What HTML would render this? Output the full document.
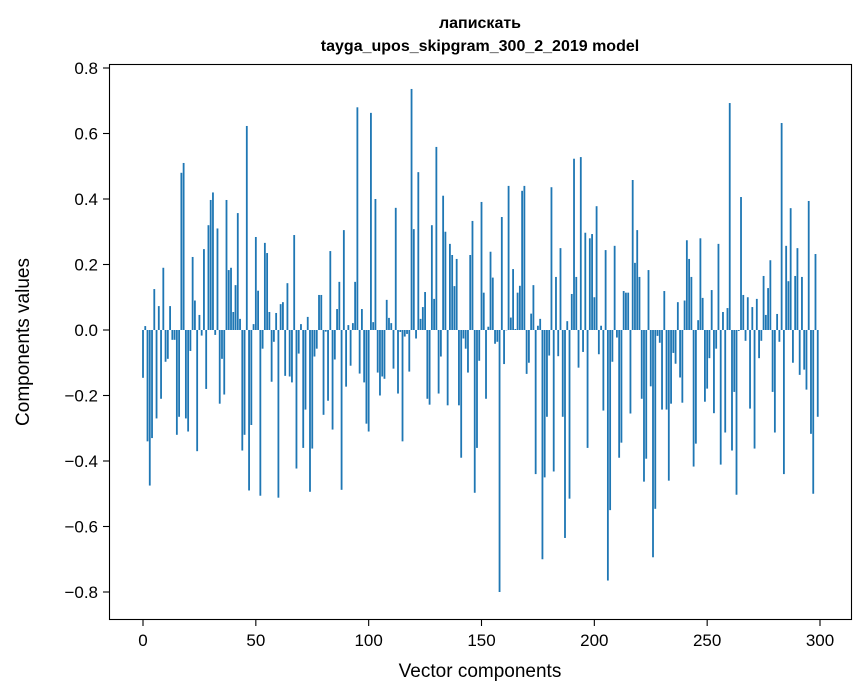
<!DOCTYPE html>
<html><head><meta charset="utf-8"><style>
html,body{margin:0;padding:0;background:#fff;}
svg{display:block;font-family:"Liberation Sans","DejaVu Sans",sans-serif;}
</style></head><body>
<svg id="chart" width="867" height="696" viewBox="0 0 867 696" xmlns="http://www.w3.org/2000/svg">
<rect x="0" y="0" width="867" height="696" fill="#fff"/>
<text x="480" y="28" text-anchor="middle" font-size="16" font-weight="bold" font-family="Liberation Sans, DejaVu Sans, sans-serif">лапискать</text>
<text x="480" y="51" text-anchor="middle" font-size="16" font-weight="bold">tayga_upos_skipgram_300_2_2019 model</text>
<g id="bars"></g>
<g id="yticks"></g>
<g id="xticks"></g>
<rect x="109.5" y="64.5" width="742" height="555" fill="none" stroke="#000" stroke-width="1.1"/>
<text x="480" y="677" text-anchor="middle" font-size="19">Vector components</text>
<text x="0" y="0" transform="translate(29,342) rotate(-90)" text-anchor="middle" font-size="19">Components values</text>
</svg>
<script>
const values = [
-0.146,0.012,-0.34,-0.475,-0.33,0.125,-0.27,0.073,-0.21,0.19,
-0.097,-0.088,0.073,-0.03,-0.03,-0.32,-0.265,0.48,0.51,-0.27,
-0.31,-0.064,0.223,0.09,-0.37,0.046,-0.017,0.247,-0.18,0.32,
0.397,0.42,-0.015,0.31,-0.225,-0.088,-0.197,0.397,0.183,0.19,
0.055,0.137,0.357,0.034,-0.368,-0.32,0.623,-0.49,-0.29,0.018,
0.284,0.12,-0.506,-0.057,0.266,0.235,0.055,-0.158,-0.036,0.052,
-0.512,0.079,0.085,-0.14,0.143,-0.142,-0.16,0.29,-0.423,-0.072,
0.018,-0.36,-0.243,0.04,-0.494,-0.362,-0.081,-0.057,0.107,0.107,
-0.259,-0.005,-0.216,0.241,-0.304,-0.09,0.064,0.147,-0.488,0.305,
-0.173,0.015,-0.109,0.021,0.147,0.68,-0.133,0.064,-0.16,-0.286,
-0.31,0.663,0.024,0.40,-0.13,-0.2,-0.142,-0.149,0.092,0.037,
0.021,-0.118,0.373,-0.194,-0.006,-0.34,-0.02,-0.012,-0.127,0.736,
0.308,-0.026,0.482,0.034,0.07,0.116,-0.21,-0.228,0.32,0.095,
0.559,-0.194,-0.081,0.41,0.3,-0.23,0.263,0.229,0.134,0.217,
-0.23,-0.39,-0.026,-0.057,-0.13,0.229,0.333,-0.497,-0.36,-0.094,
0.391,0.114,-0.21,0.01,0.239,0.16,-0.042,-0.036,-0.80,0.345,
-0.104,0.0,0.44,0.038,0.186,0.003,0.114,0.135,0.425,0.44,
-0.134,-0.1,0.05,0.137,-0.44,0.013,0.034,-0.70,-0.45,-0.265,
-0.078,0.436,-0.432,0.162,-0.08,0.25,-0.265,-0.635,0.027,-0.515,
0.11,0.523,0.162,-0.115,0.528,-0.067,0.297,-0.36,0.28,0.293,
0.10,0.378,-0.074,0.013,-0.246,0.244,-0.765,-0.55,-0.097,0.257,
-0.023,-0.39,-0.344,0.119,0.114,0.114,-0.255,0.458,0.205,0.305,
0.162,-0.21,-0.463,-0.393,0.183,-0.172,-0.694,-0.546,-0.018,-0.039,
-0.243,0.119,-0.243,-0.46,-0.225,-0.07,-0.103,0.085,-0.145,-0.222,
0.09,0.274,0.217,0.162,-0.417,-0.347,0.03,0.28,0.098,-0.219,
-0.179,-0.086,0.122,-0.254,-0.057,0.263,-0.411,0.055,-0.313,0.067,
0.693,-0.368,-0.189,-0.503,-0.003,0.406,0.107,-0.033,0.10,-0.24,
0.07,-0.362,0.095,-0.086,-0.033,0.165,0.046,0.128,0.213,-0.189,
-0.313,0.049,-0.036,0.632,-0.44,0.257,0.149,0.372,-0.1,0.165,
0.25,-0.137,0.162,-0.121,-0.182,0.394,-0.317,-0.5,0.232,-0.265
];
const yTickValues = [-0.8,-0.6,-0.4,-0.2,0.0,0.2,0.4,0.6,0.8];
const yTickLabels = ["\u22120.8","\u22120.6","\u22120.4","\u22120.2","0.0","0.2","0.4","0.6","0.8"];
const xTickValues = [0,50,100,150,200,250,300];
const xTickLabels = ["0","50","100","150","200","250","300"];

const NS = "http://www.w3.org/2000/svg";
const X0 = 143, X300 = 820;
function xScale(i){ return X0 + (X300 - X0) * i / 300; }
function yScale(v){ return 330 - 327.5 * v; }
const bw = 0.8 * (X300 - X0) / 300;

const bars = document.getElementById('bars');
values.forEach((v, i) => {
  const r = document.createElementNS(NS, 'rect');
  const y1 = yScale(Math.max(v, 0)), y2 = yScale(Math.min(v, 0));
  r.setAttribute('x', (xScale(i) - bw / 2).toFixed(2));
  r.setAttribute('y', y1.toFixed(2));
  r.setAttribute('width', bw.toFixed(2));
  r.setAttribute('height', Math.max(0.3, y2 - y1).toFixed(2));
  r.setAttribute('fill', '#1f77b4');
  
  
  bars.appendChild(r);
});

const yg = document.getElementById('yticks');
yTickValues.forEach((v, k) => {
  const y = yScale(v);
  const l = document.createElementNS(NS, 'line');
  l.setAttribute('x1', 103); l.setAttribute('x2', 109.5);
  l.setAttribute('y1', y); l.setAttribute('y2', y);
  l.setAttribute('stroke', '#000'); l.setAttribute('stroke-width', '1.1');
  
  
  yg.appendChild(l);
  const t = document.createElementNS(NS, 'text');
  t.setAttribute('x', 98); t.setAttribute('y', y + 6);
  t.setAttribute('text-anchor', 'end'); t.setAttribute('font-size', '17');
  t.textContent = yTickLabels[k];
  
  
  yg.appendChild(t);
});

const xg = document.getElementById('xticks');
xTickValues.forEach((v, k) => {
  const x = xScale(v);
  const l = document.createElementNS(NS, 'line');
  l.setAttribute('x1', x); l.setAttribute('x2', x);
  l.setAttribute('y1', 619.5); l.setAttribute('y2', 626);
  l.setAttribute('stroke', '#000'); l.setAttribute('stroke-width', '1.1');
  
  
  xg.appendChild(l);
  const t = document.createElementNS(NS, 'text');
  t.setAttribute('x', x); t.setAttribute('y', 646);
  t.setAttribute('text-anchor', 'middle'); t.setAttribute('font-size', '17');
  t.textContent = xTickLabels[k];
  
  
  xg.appendChild(t);
});
</script>
</body></html>
